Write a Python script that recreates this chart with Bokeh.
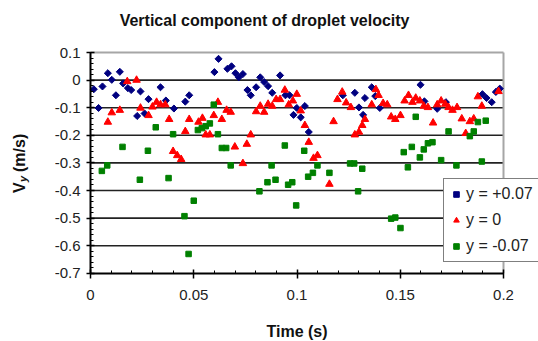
from math import pi
from bokeh.plotting import figure
from bokeh.models import (Range1d, FixedTicker, Label, Legend, LegendItem)
from bokeh.embed import file_html
from bokeh.resources import INLINE

# ---- data ----
t_plus = [0.0016,0.0039,0.0058,0.0084,0.0103,0.0123,0.0142,0.0158,0.0181,0.0197,
          0.0226,0.0242,0.0262,0.0281,0.0339,0.0365,0.0404,0.0459,0.0478,0.0600,
          0.0620,0.0663,0.0683,0.0702,0.0718,0.0738,0.0760,0.0776,0.0802,0.0822,
          0.0841,0.0860,0.0880,0.0918,0.0944,0.0964,0.0983,0.0999,0.1018,0.1038,
          0.1057,0.1222,0.1280,0.1300,0.1320,0.1329,0.1362,0.1379,0.1401,0.1598,
          0.1617,0.1679,0.1721,0.1898,0.1918,0.1943,0.1963,0.1982]
v_plus = [-0.033,-0.101,-0.023,0.025,0.001,-0.055,0.030,-0.012,-0.029,-0.036,
          -0.130,-0.041,-0.121,-0.069,-0.026,-0.074,-0.103,-0.078,-0.055,0.029,
          0.077,0.041,0.050,0.025,0.010,0.022,-0.036,-0.055,-0.026,0.010,
          -0.007,-0.022,-0.046,0.017,-0.055,-0.055,-0.126,-0.101,-0.135,-0.094,
          -0.188,-0.055,-0.046,-0.099,-0.126,-0.065,-0.026,-0.058,-0.101,-0.017,
          -0.077,-0.104,-0.080,-0.051,-0.065,-0.080,-0.043,-0.031]

t_zero = [0.0084,0.0103,0.0142,0.0178,0.0223,0.0242,0.0281,0.0300,0.0320,0.0339,
          0.0362,0.0381,0.0400,0.0420,0.0439,0.0459,0.0478,0.0523,0.0542,0.0558,
          0.0578,0.0597,0.0617,0.0636,0.0659,0.0679,0.0699,0.0738,0.0757,0.0776,
          0.0802,0.0822,0.0841,0.0860,0.0880,0.0899,0.0918,0.0941,0.0960,0.0980,
          0.0999,0.1018,0.1038,0.1057,0.1080,0.1099,0.1157,0.1177,0.1196,0.1219,
          0.1238,0.1261,0.1280,0.1300,0.1316,0.1329,0.1362,0.1382,0.1395,0.1417,
          0.1437,0.1456,0.1476,0.1501,0.1521,0.1540,0.1559,0.1575,0.1595,0.1614,
          0.1634,0.1659,0.1679,0.1698,0.1718,0.1734,0.1753,0.1775,0.1798,0.1817,
          0.1837,0.1856,0.1876,0.1895,0.1976]
v_zero = [-0.152,-0.118,-0.109,-0.005,0.000,-0.101,-0.128,-0.097,-0.080,-0.089,
          -0.089,-0.142,-0.258,-0.273,-0.287,-0.186,-0.142,-0.152,-0.138,-0.198,
          -0.198,-0.128,-0.080,-0.142,-0.109,-0.116,-0.242,-0.302,-0.232,-0.198,
          -0.114,-0.094,-0.116,-0.087,-0.094,-0.070,-0.070,-0.036,-0.089,-0.075,
          -0.051,-0.111,-0.164,-0.225,-0.283,-0.273,-0.377,-0.150,-0.070,-0.043,
          -0.082,-0.099,-0.198,-0.188,-0.164,-0.142,-0.089,-0.034,-0.055,-0.084,
          -0.089,-0.133,-0.142,-0.128,-0.075,-0.055,-0.080,-0.065,-0.075,-0.094,
          -0.099,-0.155,-0.089,-0.075,-0.087,-0.099,-0.109,-0.099,-0.140,-0.193,
          -0.150,-0.140,-0.060,-0.094,-0.041]

t_minus = [0.0055,0.0081,0.0155,0.0239,0.0278,0.0316,0.0378,0.0400,0.0455,0.0475,
           0.0500,0.0520,0.0539,0.0558,0.0578,0.0597,0.0617,0.0636,0.0657,0.0679,
           0.0818,0.0857,0.0877,0.0896,0.0941,0.0957,0.0977,0.0996,0.1035,0.1054,
           0.1077,0.1099,0.1157,0.1257,0.1277,0.1296,0.1316,0.1456,0.1476,0.1501,
           0.1517,0.1537,0.1556,0.1575,0.1595,0.1614,0.1634,0.1656,0.1698,0.1734,
           0.1772,0.1837,0.1856,0.1876,0.1895,0.1914]
v_minus = [-0.329,-0.309,-0.242,-0.361,-0.256,-0.171,-0.355,-0.196,-0.493,-0.630,
           -0.437,-0.181,-0.174,-0.167,-0.157,-0.089,-0.196,-0.246,-0.246,-0.309,
           -0.403,-0.370,-0.309,-0.361,-0.237,-0.379,-0.370,-0.454,-0.256,-0.350,
           -0.336,-0.309,-0.336,-0.302,-0.302,-0.403,-0.321,-0.502,-0.498,-0.536,
           -0.261,-0.316,-0.242,-0.133,-0.280,-0.251,-0.229,-0.225,-0.290,-0.186,
           -0.309,-0.203,-0.186,-0.152,-0.295,-0.147]

series_names = ["y = +0.07", "y = 0", "y = -0.07"]
x_ticks = [0, 0.05, 0.1, 0.15, 0.2]
x_tick_labels = ["0", "0.05", "0.1", "0.15", "0.2"]
y_ticks = [0.1, 0, -0.1, -0.2, -0.3, -0.4, -0.5, -0.6, -0.7]
y_tick_labels = ["0.1", "0", "-0.1", "-0.2", "-0.3", "-0.4", "-0.5", "-0.6", "-0.7"]
grid_y = [0, -0.1, -0.2, -0.3, -0.4, -0.5, -0.6]
x_minor = [i / 100 for i in range(0, 21)]
y_minor = [-0.7 + i * 0.02 for i in range(0, 41)]
x_lim = (0, 0.2)
y_lim = (-0.7, 0.1)

title_text = "Vertical component of droplet velocity"
x_label = "Time (s)"

FONT = "Liberation Sans"
W, H = 538, 341
# frame spans the whole canvas; axes are pinned at the data limits
PX_X = 2065.0   # pixels per unit time
PX_Y = 276.0    # pixels per unit velocity
LEFT, TOP = 90, 52
x0 = x_lim[0] - LEFT / PX_X
x1 = x0 + W / PX_X
y1 = y_lim[1] + TOP / PX_Y
y0 = y1 - H / PX_Y

p = figure(width=W, height=H, output_backend="svg", toolbar_location=None,
           x_range=Range1d(x0, x1), y_range=Range1d(y0, y1),
           min_border=0, background_fill_color="white",
           border_fill_color="white")
p.title.visible = False
p.outline_line_color = None
p.xgrid.visible = False
p.ygrid.visible = False

# horizontal gridlines limited to the plot area
n = len(grid_y)
p.segment(x0=[x_lim[0]] * n, x1=[x_lim[1]] * n, y0=grid_y, y1=grid_y,
          line_color="#222222", line_width=1.6)
# grey plot-area border (top and right)
p.segment(x0=[x_lim[0], x_lim[1]], x1=[x_lim[1], x_lim[1]],
          y0=[y_lim[1], y_lim[0]], y1=[y_lim[1], y_lim[1]],
          line_color="#a6a6a6", line_width=2)

# axes
p.xaxis.fixed_location = y_lim[0]
p.yaxis.fixed_location = x_lim[0]
p.xaxis.bounds = x_lim
p.yaxis.bounds = y_lim
p.xaxis.ticker = FixedTicker(ticks=x_ticks, minor_ticks=x_minor)
p.xaxis.major_label_overrides = dict(zip(x_ticks, x_tick_labels))
p.yaxis.ticker = FixedTicker(ticks=y_ticks, minor_ticks=y_minor)
p.yaxis.major_label_overrides = dict(zip(y_ticks, y_tick_labels))

for ax in (p.xaxis[0], p.yaxis[0]):
    ax.axis_line_color = "black"
    ax.axis_line_width = 2
    ax.major_tick_line_color = "black"
    ax.major_tick_line_width = 1.5
    ax.minor_tick_line_color = "black"
    ax.minor_tick_line_width = 1
    ax.major_tick_in = 4
    ax.major_tick_out = 4
    ax.minor_tick_in = 3
    ax.minor_tick_out = 0
    ax.major_label_text_font = FONT
    ax.major_label_text_font_size = "15px"
    ax.major_label_text_color = "#222222"

p.xaxis.major_tick_out = 5
p.xaxis.major_label_standoff = 12
p.yaxis.major_label_standoff = 6

# data
r1 = p.scatter(t_plus, v_plus, marker="square", angle=pi / 4, size=5,
               fill_color="#000080", line_color="#000080")
r2 = p.scatter(t_zero, v_zero, marker="triangle", size=7.5,
               fill_color="#ff0000", line_color="#ff0000")
r3 = p.scatter(t_minus, v_minus, marker="square", size=5.5,
               fill_color="#008000", line_color="#008000")

legend = Legend(items=[LegendItem(label=series_names[0], renderers=[r1]),
                       LegendItem(label=series_names[1], renderers=[r2]),
                       LegendItem(label=series_names[2], renderers=[r3])],
                location=(443, 79), orientation="vertical",
                label_text_font=FONT, label_text_font_size="16px",
                label_text_color="#222222",
                glyph_width=14, glyph_height=20, label_height=20,
                label_standoff=3, spacing=6, padding=5, margin=0,
                border_line_color="black", border_line_width=1,
                background_fill_color="white", background_fill_alpha=1)
p.add_layout(legend, "center")

# title
p.add_layout(Label(x=0.0843, y=0.216, text=title_text, text_align="center",
                   text_baseline="middle", text_font=FONT, text_font_size="16px",
                   text_font_style="bold", text_color="#111111"))

# x axis label
p.add_layout(Label(x=0.1, y=-0.912, text=x_label, text_align="center",
                   text_baseline="middle", text_font=FONT, text_font_size="16px",
                   text_font_style="bold", text_color="#111111"))

# y axis label: V with subscript y, then (m/s)
p.add_layout(Label(x=-0.0344, y=-0.409, text="V", angle=pi / 2, text_align="left",
                   text_baseline="middle", text_font=FONT, text_font_size="16px",
                   text_font_style="bold", text_color="#111111"))
p.add_layout(Label(x=-0.0329, y=-0.369, text="y", angle=pi / 2, text_align="left",
                   text_baseline="middle", text_font=FONT, text_font_size="11px",
                   text_font_style="bold italic", text_color="#111111"))
p.add_layout(Label(x=-0.0344, y=-0.333, text="(m/s)", angle=pi / 2, text_align="left",
                   text_baseline="middle", text_font=FONT, text_font_size="16px",
                   text_font_style="bold", text_color="#111111"))

open("out.html", "w").write(file_html(p, INLINE))
